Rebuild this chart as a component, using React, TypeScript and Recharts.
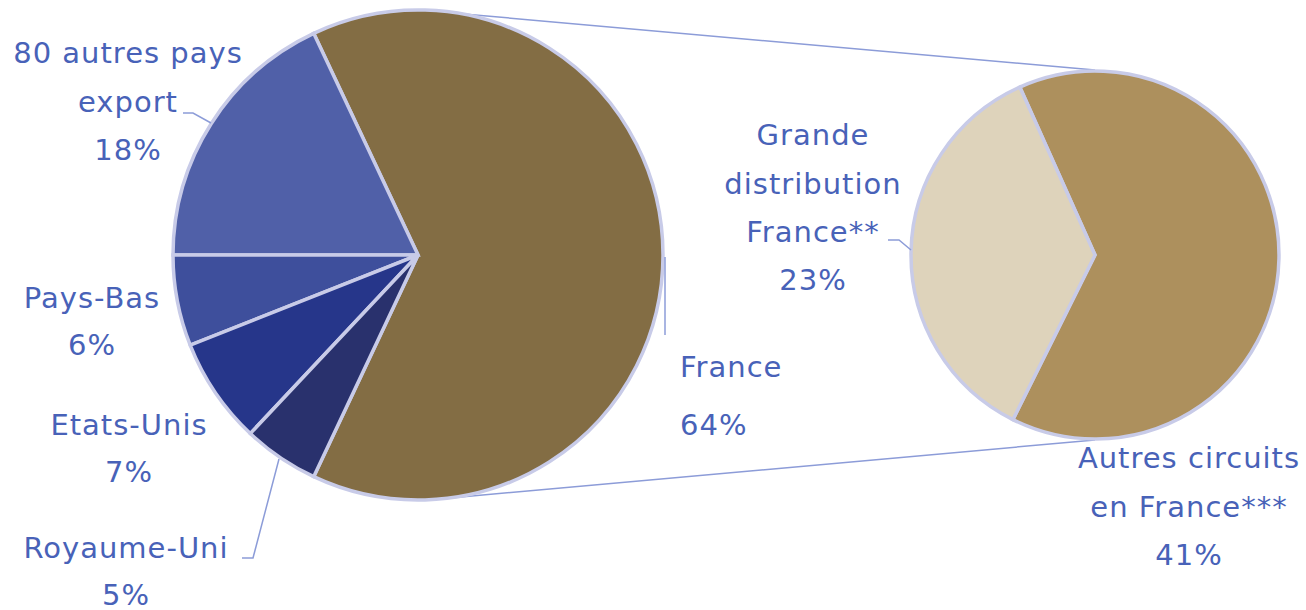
import React from "react";
import { PieChart, Pie, Cell, Customized } from "recharts";

// ---- data ----
const leftNames = ["France", "80 autres pays export", "Pays-Bas", "Etats-Unis", "Royaume-Uni"];
const leftValues = [64, 18, 6, 7, 5];
const rightNames = ["Autres circuits en France***", "Grande distribution France**"];
const rightValues = [41, 23];

// label line breaks
const leftLabelLines = [["France"], ["80 autres pays", "export"], ["Pays-Bas"], ["Etats-Unis"], ["Royaume-Uni"]];
const rightLabelLines = [["Autres circuits", "en France***"], ["Grande", "distribution", "France**"]];

// ---- styles / layout ----
const W = 1306;
const H = 610;
const FONT = "'DejaVu Sans', sans-serif";
const FONT_SIZE = 29;
const LETTER_SPACING = 1;
const TEXT_COLOR = "#4862B8";
const LEADER_COLOR = "#8C9CD8";
const SLICE_STROKE = "#C8CBE8";
const leftColors = ["#836D44", "#5060A8", "#3E4F9C", "#26368A", "#29316D"];
const rightColors = ["#AD905D", "#DED3BB"];

const LEFT = { cx: 418, cy: 255, r: 245, start: -115.2 };
const RIGHT = { cx: 1095, cy: 255, r: 184, start: -116.5 };
const CONNECTOR_TOP_ANGLE = 80;
const CONNECTOR_BOTTOM_ANGLE = -87;

type LabelLayout = { x: number; y: number; gap: number; lastGap: number; anchor: "start" | "middle" | "end"; leader: number[][] };

const leftLayout: LabelLayout[] = [
  { x: 680, y: 377, gap: 48, lastGap: 58, anchor: "start", leader: [[665, 257], [665, 335]] },
  { x: 128, y: 63, gap: 48.5, lastGap: 48.5, anchor: "middle", leader: [[183, 113], [193, 113], [211, 123]] },
  { x: 92, y: 308, gap: 47, lastGap: 47, anchor: "middle", leader: [] },
  { x: 129, y: 435, gap: 47, lastGap: 47, anchor: "middle", leader: [] },
  { x: 126, y: 558, gap: 47, lastGap: 47, anchor: "middle", leader: [[242, 558], [253, 558], [279, 459]] },
];
const rightLayout: LabelLayout[] = [
  { x: 1189, y: 468, gap: 48.5, lastGap: 48.5, anchor: "middle", leader: [] },
  { x: 813, y: 145, gap: 48.5, lastGap: 47.5, anchor: "middle", leader: [[888, 240], [899, 240], [911, 250]] },
];

const leftData = leftNames.map((name, i) => ({ name, value: leftValues[i] }));
const rightData = rightNames.map((name, i) => ({ name, value: rightValues[i] }));

function makeLabel(lines: string[][], layout: LabelLayout[], values: number[], total: number) {
  return (props: any) => {
    const i = props.index;
    const L = layout[i];
    const pct = Math.round((values[i] / total) * 100) + "%";
    const all = [...lines[i], pct];
    let y = L.y;
    const ys: number[] = [];
    all.forEach((_, k) => {
      ys.push(y);
      y += k === all.length - 2 ? L.lastGap : L.gap;
    });
    return (
      <g key={"lbl" + i}>
        {L.leader.length > 0 && (
          <polyline
            points={L.leader.map((p) => p.join(",")).join(" ")}
            fill="none"
            stroke={LEADER_COLOR}
            strokeWidth={1.5}
          />
        )}
        {all.map((t, k) => (
          <text
            key={k}
            x={L.x}
            y={ys[k]}
            textAnchor={L.anchor}
            fill={TEXT_COLOR}
            fontFamily={FONT}
            fontSize={FONT_SIZE}
            letterSpacing={LETTER_SPACING}
          >
            {t}
          </text>
        ))}
      </g>
    );
  };
}

const leftTotal = leftValues.reduce((a, b) => a + b, 0);
const leftLabel = makeLabel(leftLabelLines, leftLayout, leftValues, leftTotal);
const rightLabel = makeLabel(rightLabelLines, rightLayout, rightValues, leftTotal);

function Connectors() {
  const rad = Math.PI / 180;
  const a1 = CONNECTOR_TOP_ANGLE * rad;
  const a2 = CONNECTOR_BOTTOM_ANGLE * rad;
  const p1 = [LEFT.cx + LEFT.r * Math.cos(a1), LEFT.cy - LEFT.r * Math.sin(a1)];
  const p2 = [LEFT.cx + LEFT.r * Math.cos(a2), LEFT.cy - LEFT.r * Math.sin(a2)];
  const q1 = [RIGHT.cx, RIGHT.cy - RIGHT.r - 1];
  const q2 = [RIGHT.cx, RIGHT.cy + RIGHT.r + 1];
  return (
    <g>
      <line x1={p1[0]} y1={p1[1]} x2={q1[0]} y2={q1[1]} stroke={LEADER_COLOR} strokeWidth={1.5} />
      <line x1={p2[0]} y1={p2[1]} x2={q2[0]} y2={q2[1]} stroke={LEADER_COLOR} strokeWidth={1.5} />
    </g>
  );
}

export default function App() {
  return (
    <div style={{ position: "absolute", left: 0, top: 0, width: W, height: H, background: "#fff" }}>
      <PieChart width={W} height={H} margin={{ top: 0, right: 0, bottom: 0, left: 0 }}>
        <Customized component={Connectors} />
        <Pie
          data={leftData}
          dataKey="value"
          nameKey="name"
          cx={LEFT.cx}
          cy={LEFT.cy}
          outerRadius={LEFT.r}
          startAngle={LEFT.start}
          endAngle={LEFT.start + 360}
          stroke={SLICE_STROKE}
          strokeWidth={3.5}
          label={leftLabel}
          labelLine={false}
          isAnimationActive={false}
        >
          {leftData.map((d, i) => (
            <Cell key={d.name} fill={leftColors[i]} stroke={SLICE_STROKE} strokeWidth={3.5} />
          ))}
        </Pie>
        <Pie
          data={rightData}
          dataKey="value"
          nameKey="name"
          cx={RIGHT.cx}
          cy={RIGHT.cy}
          outerRadius={RIGHT.r}
          startAngle={RIGHT.start}
          endAngle={RIGHT.start + 360}
          stroke={SLICE_STROKE}
          strokeWidth={3.5}
          label={rightLabel}
          labelLine={false}
          isAnimationActive={false}
        >
          {rightData.map((d, i) => (
            <Cell key={d.name} fill={rightColors[i]} stroke={SLICE_STROKE} strokeWidth={3.5} />
          ))}
        </Pie>
      </PieChart>
    </div>
  );
}
